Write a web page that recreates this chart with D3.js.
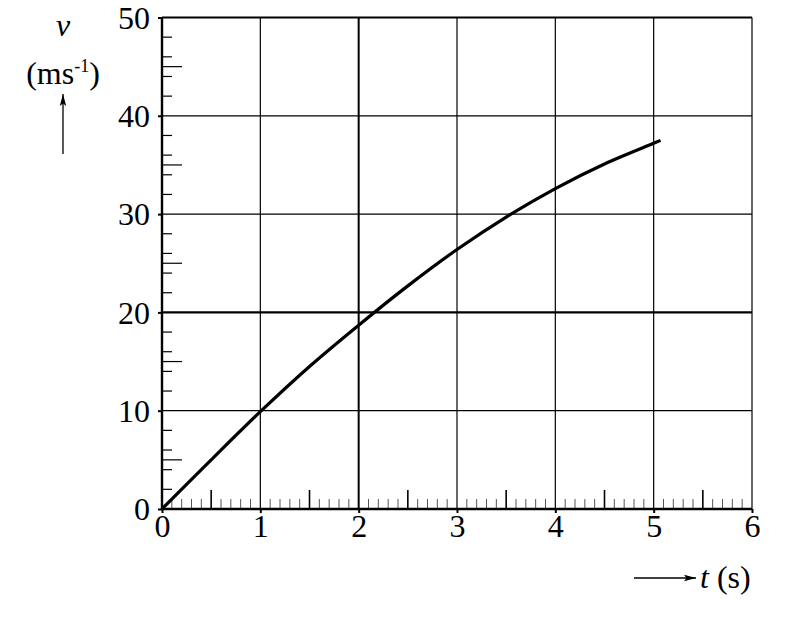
<!DOCTYPE html>
<html>
<head>
<meta charset="utf-8">
<script src="https://cdn.jsdelivr.net/npm/d3@7"></script>
<style>
  body { margin: 0; background: #fff; }
  svg text { font-family: "Liberation Serif", "Times New Roman", serif; fill: #000; }
</style>
</head>
<body>
<div id="chart"></div>
<script>
// v-t curve
const tValues = [0, 0.5, 1, 1.5, 2, 2.5, 3, 3.5, 4, 4.5, 5, 5.07];
const vValues = [0, 5.0, 9.9, 14.5, 18.7, 22.7, 26.4, 29.7, 32.6, 35.1, 37.2, 37.5];
const xTicks = [0, 1, 2, 3, 4, 5, 6];
const yTicks = [0, 10, 20, 30, 40, 50];

const W = 785, H = 617;
const margin = { left: 162, top: 17.5, right: 33, bottom: 108 };
const iw = W - margin.left - margin.right;
const ih = H - margin.top - margin.bottom;
const FS = 32;

const svg = d3.select('#chart').append('svg')
  .attr('width', W).attr('height', H);

svg.append('defs').append('marker')
  .attr('id', 'arrow')
  .attr('viewBox', '0 0 10 10')
  .attr('refX', 10).attr('refY', 5)
  .attr('markerWidth', 12).attr('markerHeight', 8)
  .attr('markerUnits', 'userSpaceOnUse')
  .attr('orient', 'auto')
  .attr('preserveAspectRatio', 'none')
  .append('path').attr('d', 'M0,1 L10,5 L0,9 L2,5 Z').attr('fill', '#000');

const g = svg.append('g').attr('transform', `translate(${margin.left},${margin.top})`);

const x = d3.scaleLinear().domain([0, 6]).range([0, iw]);
const y = d3.scaleLinear().domain([0, 50]).range([ih, 0]);

// grid
g.append('g').selectAll('line').data(xTicks.slice(1))
  .join('line')
  .attr('x1', d => x(d)).attr('x2', d => x(d))
  .attr('y1', 0).attr('y2', ih)
  .attr('stroke', '#000')
  .attr('stroke-width', d => d === 2 ? 2 : 1.2);

g.append('g').selectAll('line').data(yTicks.slice(1))
  .join('line')
  .attr('x1', 0).attr('x2', iw)
  .attr('y1', d => y(d)).attr('y2', d => y(d))
  .attr('stroke', '#000')
  .attr('stroke-width', d => (d === 20 || d === 50) ? 2.2 : 1.2);

// minor ticks along the t axis (inside)
const xMinor = d3.range(1, 60).filter(i => i % 10 !== 0).map(i => i / 10);
const half = d => Math.round(d * 10) % 5 === 0;
g.append('g').selectAll('line').data(xMinor)
  .join('line')
  .attr('x1', d => x(d)).attr('x2', d => x(d))
  .attr('y1', ih).attr('y2', d => half(d) ? ih - 19 : ih - 10)
  .attr('stroke', d => half(d) ? '#000' : '#555')
  .attr('stroke-width', d => half(d) ? 1.6 : 1);

// minor ticks along the v axis (inside)
const yMinor = d3.range(1, 50).filter(i => i % 10 !== 0 && (i % 2 === 0 || i % 5 === 0));
g.append('g').selectAll('line').data(yMinor)
  .join('line')
  .attr('x1', 0).attr('x2', d => d % 5 === 0 ? 20 : 10)
  .attr('y1', d => y(d)).attr('y2', d => y(d))
  .attr('stroke', '#000').attr('stroke-width', 1.2);

// axes
const xAxis = g.append('g').attr('transform', `translate(0,${ih})`)
  .call(d3.axisBottom(x).tickValues(xTicks).tickSize(4).tickFormat(d3.format('d')));
const yAxis = g.append('g')
  .call(d3.axisLeft(y).tickValues(yTicks).tickSize(4).tickPadding(8).tickFormat(d3.format('d')));
[xAxis, yAxis].forEach(a => {
  a.select('.domain').attr('stroke', '#000').attr('stroke-width', 2.4);
  a.selectAll('.tick line').attr('stroke', '#000').attr('stroke-width', 2);
  a.selectAll('.tick text').attr('font-size', FS);
});
xAxis.select('.domain').attr('d', `M0,0H${iw}`);
yAxis.select('.domain').attr('d', `M0,${ih}V0`);
yAxis.selectAll('.tick text').attr('dy', '0.34em');
xAxis.selectAll('.tick text').attr('y', 28).attr('dy', 0);

// the curve
const line = d3.line()
  .x((d, i) => x(tValues[i]))
  .y(d => y(d))
  .curve(d3.curveCatmullRom.alpha(0.5));
g.append('path')
  .datum(vValues)
  .attr('d', line)
  .attr('fill', 'none')
  .attr('stroke', '#000')
  .attr('stroke-width', 3.2);

// axis titles
svg.append('text').attr('x', 63).attr('y', 36)
  .attr('text-anchor', 'middle').attr('font-size', FS).attr('font-style', 'italic').text('v');
const unit = svg.append('text').attr('x', 63).attr('y', 84)
  .attr('text-anchor', 'middle').attr('font-size', FS);
unit.append('tspan').text('(ms');
unit.append('tspan').attr('font-size', 18).attr('dy', -12).text('-1');
unit.append('tspan').attr('dy', 12).text(')');
svg.append('line').attr('x1', 63).attr('x2', 63).attr('y1', 154).attr('y2', 94)
  .attr('stroke', '#000').attr('stroke-width', 1.3).attr('marker-end', 'url(#arrow)');

svg.append('line').attr('x1', 634).attr('x2', 696).attr('y1', 578).attr('y2', 578)
  .attr('stroke', '#000').attr('stroke-width', 1.3).attr('marker-end', 'url(#arrow)');
const tl = svg.append('text').attr('x', 700).attr('y', 588).attr('font-size', FS);
tl.append('tspan').attr('font-style', 'italic').text('t');
tl.append('tspan').text(' (s)');
</script>
</body>
</html>
